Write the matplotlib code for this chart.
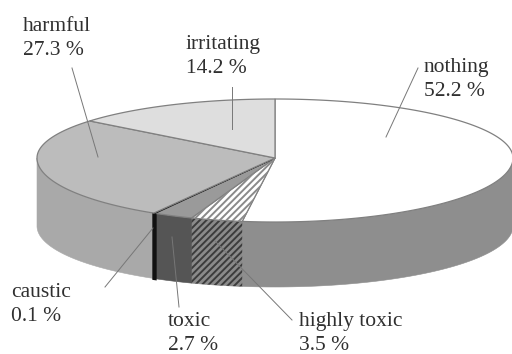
import numpy as np
import matplotlib
matplotlib.use("Agg")
import matplotlib.pyplot as plt
from matplotlib.patches import Polygon

labels = ["nothing", "highly toxic", "toxic", "caustic", "harmful", "irritating"]
values = [52.2, 3.5, 2.7, 0.1, 27.3, 14.2]
top_colors = ["#ffffff", "#ffffff", "#9a9a9a", "#111111", "#bcbcbc", "#dedede"]
side_colors = ["#8e8e8e", "#8a8a8a", "#555555", "#111111", "#a9a9a9", "#a9a9a9"]
side_lw = [0.4, 0.4, 0.4, 2.2, 0.4, 0.4]
hatches = [None, "/////", None, None, None, None]
label_pos = [(424, 58), (299, 312), (168, 312), (11, 283), (23, 17), (186, 35)]
label_text = ["nothing\n52.2 %", "highly toxic\n3.5 %", "toxic\n2.7 %", "caustic\n0.1 %", "harmful\n27.3 %", "irritating\n14.2 %"]
leaders = [((386, 137), (418, 68)), ((215, 241), (292, 320)), ((172, 237), (179, 307)),
           ((153, 228), (105, 287)), ((98, 157), (72, 68)), ((232, 129), (232, 87))]

CX, CY, RX = 275, 158, 238
RY_BACK, RY_FRONT, RY_BOTTOM, DEPTH = 59, 64, 61, 68
EDGE = "#808080"

plt.rcParams["font.family"] = "Liberation Serif"
plt.rcParams["hatch.linewidth"] = 1.4
fig = plt.figure(figsize=(5.12, 3.54), dpi=100)
ax = fig.add_axes([0, 0, 1, 1])
ax.set_xlim(0, 512)
ax.set_ylim(354, 0)
ax.axis("off")

def rim(t0, t1, n=160):
    t = np.radians(np.linspace(t0, t1, n))
    s = np.sin(t)
    ry = np.where(s > 0, RY_BACK, RY_FRONT)
    return np.column_stack([CX + RX * np.cos(t), CY - ry * s])

def bottom_rim(t0, t1, n=160):
    t = np.radians(np.linspace(t0, t1, n))
    return np.column_stack([CX + RX * np.cos(t), CY + DEPTH - RY_BOTTOM * np.sin(t)])

edges = 90 - np.concatenate([[0], np.cumsum(values)]) * 3.6

# Side walls: only the front half of the rim (angles between 0 and -180)
order = [0, 1, 2, 4, 5, 3]
for i in order:
    a0, a1 = edges[i], edges[i + 1]
    s0, s1 = min(a0, 0), max(a1, -180)
    if s0 <= s1:
        continue
    poly = np.vstack([rim(s0, s1), bottom_rim(s0, s1)[::-1]])
    ax.add_patch(Polygon(poly, closed=True, facecolor=side_colors[i], edgecolor=side_colors[i], lw=side_lw[i], zorder=2))
    if hatches[i]:
        ax.add_patch(Polygon(poly, closed=True, facecolor="none", edgecolor="#3c3c3c", hatch=hatches[i], lw=0, zorder=3))

# Top surface
for i in range(len(values)):
    poly = np.vstack([[CX, CY], rim(edges[i], edges[i + 1])])
    ax.add_patch(Polygon(poly, closed=True, facecolor=top_colors[i], edgecolor=EDGE if i != 3 else "#222222", lw=0.9, zorder=4))
    if hatches[i]:
        ax.add_patch(Polygon(poly, closed=True, facecolor="none", edgecolor="#8a8a8a", hatch=hatches[i], lw=0, zorder=5))

# Leader lines
for (p0, p1) in leaders:
    ax.plot([p0[0], p1[0]], [p0[1], p1[1]], color="#777777", lw=0.7, zorder=6)

for (x, y), s in zip(label_pos, label_text):
    ax.text(x, y, s, fontsize=15.5, color="#303030", ha="left", va="top", linespacing=1.37, zorder=7)

fig.savefig("out.png", dpi=100)
